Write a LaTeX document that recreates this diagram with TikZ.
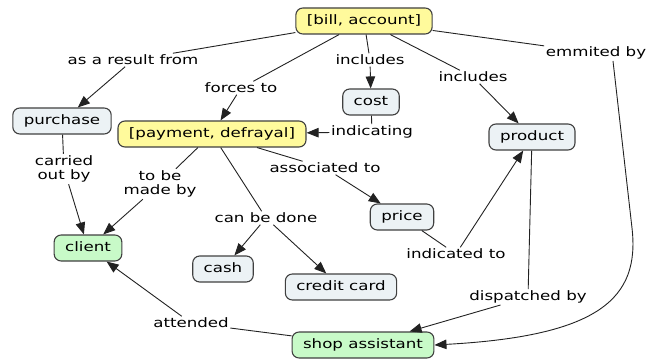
\documentclass[tikz,border=0pt]{standalone}
\usepackage{fontspec}
\setmainfont{DejaVu Sans}[FakeStretch=1.28]
\usetikzlibrary{arrows.meta}
\definecolor{yel}{HTML}{FFFA9C}
\definecolor{blu}{HTML}{ECF2F5}
\definecolor{grn}{HTML}{C8FAC8}
\definecolor{edgec}{HTML}{222222}
\begin{document}
\begin{tikzpicture}[x=1pt,y=-1pt, font=\fontsize{13}{14.5}\selectfont,
 concept/.style={draw=black!75, line width=1.1pt, rounded corners=7pt, minimum height=26pt, inner xsep=11pt, inner ysep=2pt, text height=10pt, text depth=3pt},
 yc/.style={concept, fill=yel},
 bc/.style={concept, fill=blu},
 gc/.style={concept, fill=grn},
 lbl/.style={inner sep=1.5pt, align=center},
 con/.style={draw=edgec, line width=0.9pt},
 arr/.style={con, -{Triangle[length=12pt,width=9.5pt]}}]
\useasboundingbox (0,0) rectangle (662,361);
% concepts
\node[yc] (bill) at (364,21) {[bill, account]};
\node[bc] (purchase) at (62,121) {purchase};
\node[yc] (payment) at (212,134) {[payment, defrayal]};
\node[bc] (cost) at (371,102) {cost};
\node[bc] (product) at (532,137) {product};
\node[gc] (client) at (88,248) {client};
\node[bc] (cash) at (223,269) {cash};
\node[bc] (credit) at (341,287) {credit card};
\node[bc] (price) at (402,217) {price};
\node[gc] (shop) at (363,345) {shop assistant};
% linking phrases
\node[lbl] (asres) at (133,60) {as a result from};
\node[lbl] (forces) at (241,88) {forces to};
\node[lbl] (incl1) at (370,60) {includes};
\node[lbl] (incl2) at (473,77) {includes};
\node[lbl] (emm) at (596,53) {emmited by};
\node[lbl] (indic) at (372,132) {indicating};
\node[lbl] (carried) at (64,169) {carried\\out by};
\node[lbl] (made) at (160,184) {to be\\made by};
\node[lbl] (assoc) at (325,168) {associated to};
\node[lbl] (cando) at (266,218) {can be done};
\node[lbl] (indto) at (456,254) {indicated to};
\node[lbl] (disp) at (528,297) {dispatched by};
\node[lbl] (att) at (191,323) {attended};
\coordinate (bend) at (632,228);
% connectors
\draw[con] (bill) -- (asres);
\draw[arr] (asres) -- (purchase);
\draw[con] (bill) -- (forces);
\draw[arr] (forces) -- (payment);
\draw[con] (bill) -- (incl1);
\draw[arr] (incl1) -- (cost);
\draw[con] (bill) -- (incl2);
\draw[arr] (incl2) -- (product);
\draw[con] (bill) -- (emm);
\draw[arr] ([xshift=17pt]emm.south) -- (bend) .. controls (640,298) and (600,336) .. (shop.east);
\draw[con] (cost) -- (indic);
\draw[arr] (indic) -- (payment);
\draw[con] (purchase) -- (carried);
\draw[arr] (carried) -- (client);
\draw[con] (payment) -- (made);
\draw[arr] (made) -- (client);
\draw[con] (payment) -- (cando);
\draw[arr] (cando) -- (cash);
\draw[arr] (cando) -- (credit);
\draw[con] (payment) -- (assoc);
\draw[arr] (assoc) -- (price);
\draw[con] (price) -- (indto);
\draw[arr] (indto) -- (product);
\draw[con] (product) -- (disp);
\draw[arr] (disp) -- (shop);
\draw[con] (shop) -- (att);
\draw[arr] (att) -- (client);
\end{tikzpicture}
\end{document}
